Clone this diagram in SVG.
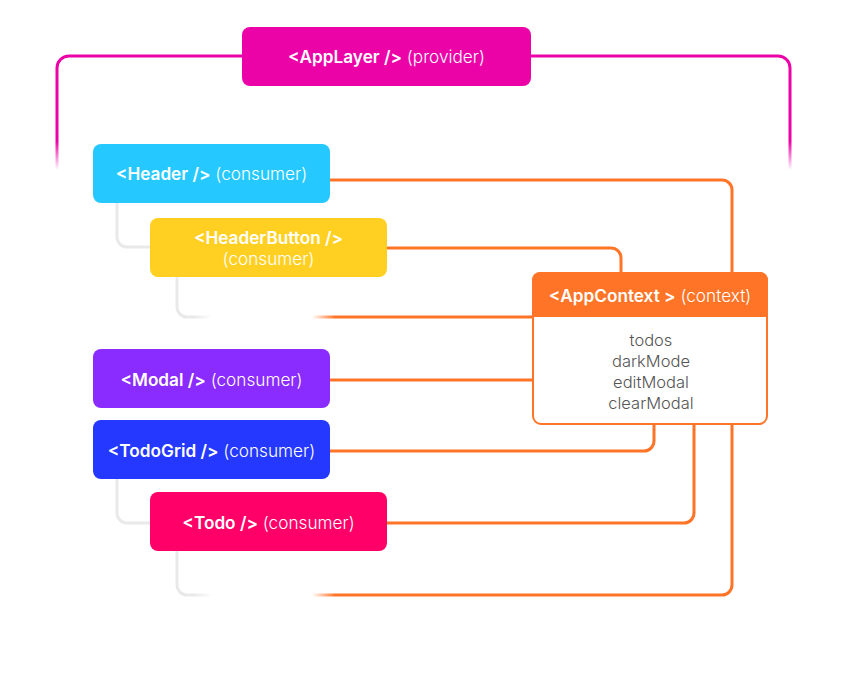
<svg xmlns="http://www.w3.org/2000/svg" width="851" height="685" viewBox="0 0 851 685">
<defs>
<style>
.t{font-family:Inter,"Noto Sans",sans-serif;font-size:17.2px;fill:#fff;text-anchor:middle}
.b{font-weight:600}
.l{font-weight:300}
.o{fill:none;stroke:#FF7426;stroke-width:3}
.g{fill:none;stroke:#E9E9E9;stroke-width:3}
.m{fill:none;stroke-width:3}
.body{font-family:Inter,"Noto Sans",sans-serif;font-size:16.5px;fill:#555;font-weight:300;text-anchor:middle}
</style>
<linearGradient id="fadeM" gradientUnits="userSpaceOnUse" x1="0" y1="56" x2="0" y2="170">
<stop offset="0.75" stop-color="#EC03A8"/><stop offset="1" stop-color="#EC03A8" stop-opacity="0"/>
</linearGradient>
<linearGradient id="fadeG" gradientUnits="userSpaceOnUse" x1="177" y1="0" x2="212" y2="0">
<stop offset="0.5" stop-color="#E9E9E9"/><stop offset="1" stop-color="#E9E9E9" stop-opacity="0"/>
</linearGradient>
<linearGradient id="fadeO" gradientUnits="userSpaceOnUse" x1="312" y1="0" x2="335" y2="0">
<stop offset="0" stop-color="#FF7426" stop-opacity="0"/><stop offset="1" stop-color="#FF7426"/>
</linearGradient>
</defs>
<g id="connectors">
<path class="m" stroke="url(#fadeM)" d="M242,56 H69 A12,12 0 0 0 57,68 V170"/>
<path class="m" stroke="url(#fadeM)" d="M531,56 H778 A12,12 0 0 1 790,68 V170"/>
<path class="g" d="M117,203 V237 A10,10 0 0 0 127,247 H150"/>
<path class="m" stroke="url(#fadeG)" d="M177,277 V307 A10,10 0 0 0 187,317 H212"/>
<path class="g" d="M117,479 V513 A10,10 0 0 0 127,523 H150"/>
<path class="m" stroke="url(#fadeG)" d="M177,551 V585 A10,10 0 0 0 187,595 H212"/>
<path class="o" d="M330,180 H722 A10,10 0 0 1 732,190 V272"/>
<path class="o" d="M387,248 H611 A10,10 0 0 1 621,258 V272"/>
<path class="m" stroke="url(#fadeO)" d="M312,317 H533"/>
<path class="o" d="M330,380 H533"/>
<path class="o" d="M330,451 H644 A10,10 0 0 0 654,441 V425"/>
<path class="o" d="M387,523 H684 A10,10 0 0 0 694,513 V425"/>
<path class="m" stroke="url(#fadeO)" d="M312,595 H722 A10,10 0 0 0 732,585 V425"/>
</g>
<g id="applayer">
<rect x="242" y="27" width="289" height="59" rx="8" fill="#EC03A8"/>
<text class="t" x="386.5" y="63"><tspan class="b">&lt;AppLayer /&gt;</tspan><tspan class="l"> (provider)</tspan></text>
</g>
<g id="header">
<rect x="93" y="144" width="237" height="59" rx="8" fill="#26C9FF"/>
<text class="t" x="211.5" y="180"><tspan class="b">&lt;Header /&gt;</tspan><tspan class="l"> (consumer)</tspan></text>
</g>
<g id="headerbutton">
<rect x="150" y="218" width="237" height="59" rx="8" fill="#FFD022"/>
<text class="t" x="268.5" y="244"><tspan class="b">&lt;HeaderButton /&gt;</tspan></text>
<text class="t" x="268.5" y="265"><tspan class="l">(consumer)</tspan></text>
</g>
<g id="modal">
<rect x="93" y="349" width="237" height="59" rx="8" fill="#8A2BFF"/>
<text class="t" x="211.5" y="386"><tspan class="b">&lt;Modal /&gt;</tspan><tspan class="l"> (consumer)</tspan></text>
</g>
<g id="todogrid">
<rect x="93" y="420" width="237" height="59" rx="8" fill="#2438FF"/>
<text class="t" x="211.5" y="457"><tspan class="b">&lt;TodoGrid /&gt;</tspan><tspan class="l"> (consumer)</tspan></text>
</g>
<g id="todo">
<rect x="150" y="492" width="237" height="59" rx="8" fill="#FF0068"/>
<text class="t" x="268.5" y="529"><tspan class="b">&lt;Todo /&gt;</tspan><tspan class="l"> (consumer)</tspan></text>
</g>
<g id="appcontext">
<rect x="533" y="273" width="234" height="151" rx="8" fill="#fff" stroke="#FF7426" stroke-width="2"/>
<path d="M532,317 V280 A8,8 0 0 1 540,272 H760 A8,8 0 0 1 768,280 V317 Z" fill="#FF7426"/>
<text class="t" x="650" y="302"><tspan class="b">&lt;AppContext &gt;</tspan><tspan class="l"> (context)</tspan></text>
<text class="body" x="651" y="346">todos</text>
<text class="body" x="651" y="367">darkMode</text>
<text class="body" x="651" y="388">editModal</text>
<text class="body" x="651" y="409">clearModal</text>
</g>
</svg>
